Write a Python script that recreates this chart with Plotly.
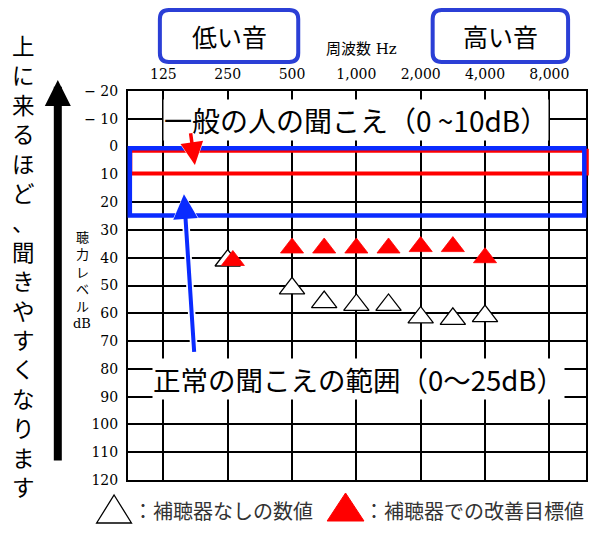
import plotly.graph_objects as go

# audiogram axes: x is the octave step (0 = 125 Hz ... 6 = 8000 Hz)
freq_pos = [0, 1, 2, 3, 4, 5, 6]
freq_labels = ['125', '250', '500', '1,000', '2,000', '4,000', '8,000']
db_ticks = [-20, -10, 0, 10, 20, 30, 40, 50, 60, 70, 80, 90, 100, 110, 120]
db_labels = ['− 20', '− 10', '0', '10', '20', '30', '40', '50', '60', '70',
             '80', '90', '100', '110', '120']

# 補聴器なし (white triangles)
no_aid_x = [1.0, 2.0, 2.5, 3.0, 3.5, 4.0, 4.5, 5.0]
no_aid_db = [41, 51, 56, 57, 57, 61.5, 62, 61]

# 補聴器での改善目標 (red triangles)
aid_x = [1.08, 2.0, 2.5, 3.0, 3.5, 4.0, 4.5, 5.0]
aid_db = [41, 36.5, 36.5, 36.5, 36.5, 36, 36, 40]

side_text = '上に来るほど、聞きやすくなります'
ylabel_text = ['聴', '力', 'レ', 'ベ', 'ル', 'dB']

RED = '#ff0000'
BLUE = '#0a2bff'
BOXBLUE = '#2b3fd6'
JP = 'Noto Sans CJK JP'
SERIF = 'DejaVu Serif'

# plot area in page pixels (the page body has an 8px margin)
PAGE_PAD = 8
L, T, W, H = 128, 91, 460, 389


def px(x):
    return (x - L) / W


def py(y):
    return (T + H - y) / H


def rounded_box(x0, y0, x1, y1, r):
    pts = [('M', x0 + r, y0), ('L', x1 - r, y0), ('Q', x1, y0, x1, y0 + r),
           ('L', x1, y1 - r), ('Q', x1, y1, x1 - r, y1), ('L', x0 + r, y1),
           ('Q', x0, y1, x0, y1 - r), ('L', x0, y0 + r), ('Q', x0, y0, x0 + r, y0)]
    s = ''
    for p in pts:
        if p[0] == 'Q':
            s += 'Q%.4f,%.4f %.4f,%.4f ' % (px(p[1]), py(p[2]), px(p[3]), py(p[4]))
        else:
            s += '%s%.4f,%.4f ' % (p[0], px(p[1]), py(p[2]))
    return s + 'Z'


def tri_path(cx, top, w, h):
    return 'M%.4f,%.4f L%.4f,%.4f L%.4f,%.4f Z' % (
        px(cx), py(top), px(cx + w / 2), py(top + h), px(cx - w / 2), py(top + h))


def paper_text(text, x, y, size, family=JP, color='black', xanchor='center'):
    return dict(text=text, x=px(x), y=py(y), xref='paper', yref='paper', showarrow=False,
                xanchor=xanchor, yanchor='middle', font=dict(family=family, size=size, color=color))


def data_arrow(x, y, ax, ay, color, width, size):
    return dict(text='', x=x, y=y, ax=ax, ay=ay, xref='x', yref='y', axref='x', ayref='y',
                showarrow=True, arrowhead=2, arrowsize=size, arrowwidth=width, arrowcolor=color)


fig = go.Figure()

fig.add_trace(go.Scatter(x=no_aid_x, y=no_aid_db, mode='markers',
                         marker=dict(symbol='triangle-up', size=22, color='white',
                                     line=dict(color='black', width=1.3)),
                         showlegend=False, hoverinfo='skip'))
fig.add_trace(go.Scatter(x=aid_x, y=aid_db, mode='markers',
                         marker=dict(symbol='triangle-up', size=20, color=RED,
                                     line=dict(color=RED, width=0.8)),
                         showlegend=False, hoverinfo='skip'))

shapes = []
# 0~10dB band (red) and normal range 0~25dB (blue)
shapes.append(dict(type='rect', xref='paper', yref='y', x0=0.005, x1=1.0017, y0=1.5, y1=9.7,
                   line=dict(color=RED, width=4)))
shapes.append(dict(type='rect', xref='paper', yref='y', x0=0.004, x1=0.9963, y0=0.6, y1=24.8,
                   line=dict(color=BLUE, width=4.5)))
# 低い音 / 高い音 boxes
shapes.append(dict(type='path', xref='paper', yref='paper',
                   path=rounded_box(160, 10, 299, 62, 9), line=dict(color=BOXBLUE, width=4)))
shapes.append(dict(type='path', xref='paper', yref='paper',
                   path=rounded_box(434, 10, 570, 62, 9), line=dict(color=BOXBLUE, width=4)))
# legend triangles
shapes.append(dict(type='path', xref='paper', yref='paper', path=tri_path(114, 495, 35, 28),
                   line=dict(color='black', width=1.3), fillcolor='white'))
shapes.append(dict(type='path', xref='paper', yref='paper', path=tri_path(346.5, 493, 37, 28),
                   line=dict(color=RED, width=1), fillcolor=RED))

annotations = [
    paper_text('低い音', 229.5, 36, 25),
    paper_text('高い音', 502, 36, 25),
    paper_text('周波数 Hz', 363, 49, 15, family=SERIF + ', ' + JP),
    paper_text('：補聴器なしの数値', 131, 510, 20, color='#333333', xanchor='left'),
    paper_text('：補聴器での改善目標値', 363, 510, 20, color='#333333', xanchor='left'),
    dict(text='一般の人の聞こえ（0 ~10dB）', x=3.0, y=-9.6, xref='x', yref='y', showarrow=False,
         bgcolor='white', borderpad=0, font=dict(family=JP, size=28, color='black')),
    dict(text='正常の聞こえの範囲（0〜25dB）', x=3.03, y=83.7, xref='x', yref='y', showarrow=False,
         bgcolor='white', borderpad=0, font=dict(family=JP, size=27.5, color='black')),
    # big black arrow on the left
    dict(text='', x=px(57.5), y=py(80), xref='paper', yref='paper', ax=0, ay=382,
         showarrow=True, arrowhead=2, arrowsize=0.65, arrowwidth=8, arrowcolor='black'),
    # red arrow to the 10dB line, with a white outline
    data_arrow(0.49, 7.0, 0.42, -5.3, 'white', 7, 0.84),
    data_arrow(0.49, 6.6, 0.42, -5.3, RED, 3.5, 1.3),
    # blue arrow to the 0~25dB box, with a white outline
    data_arrow(0.32, 16.7, 0.48, 74.4, 'white', 7.5, 0.82),
    data_arrow(0.32, 17.2, 0.48, 74.4, BLUE, 4, 1.23),
]

# vertical text, one character per line
for i, ch in enumerate(side_text):
    annotations.append(paper_text(ch, 23, 45 + 29.4 * i, 22.5))
for i, ch in enumerate(ylabel_text):
    annotations.append(paper_text(ch, 82, 238 + 17 * i, 13,
                                  family=SERIF + ', ' + JP))

fig.update_layout(
    width=600 - 2 * PAGE_PAD, height=533 - 2 * PAGE_PAD,
    margin=dict(l=L - PAGE_PAD, r=600 - PAGE_PAD - L - W, t=T - PAGE_PAD, b=533 - PAGE_PAD - T - H,
                pad=0),
    paper_bgcolor='white', plot_bgcolor='white',
    shapes=shapes, annotations=annotations,
    showlegend=False,
)
fig.update_xaxes(side='top', range=[-0.55, 6.57], tickvals=freq_pos, ticktext=freq_labels,
                 showgrid=True, gridcolor='#000000', gridwidth=1.6, zeroline=False,
                 showline=True, mirror=True, linecolor='black', linewidth=2,
                 ticks='', ticklabelstandoff=4,
                 tickfont=dict(family=SERIF, size=14, color='black'))
fig.update_yaxes(range=[120, -20], tickvals=db_ticks, ticktext=db_labels,
                 showgrid=True, gridcolor='#000000', gridwidth=1.6, zeroline=False,
                 showline=True, mirror=True, linecolor='black', linewidth=2,
                 ticks='', ticklabelstandoff=5,
                 tickfont=dict(family=SERIF, size=14, color='black'))

fig.write_html('out.html')
